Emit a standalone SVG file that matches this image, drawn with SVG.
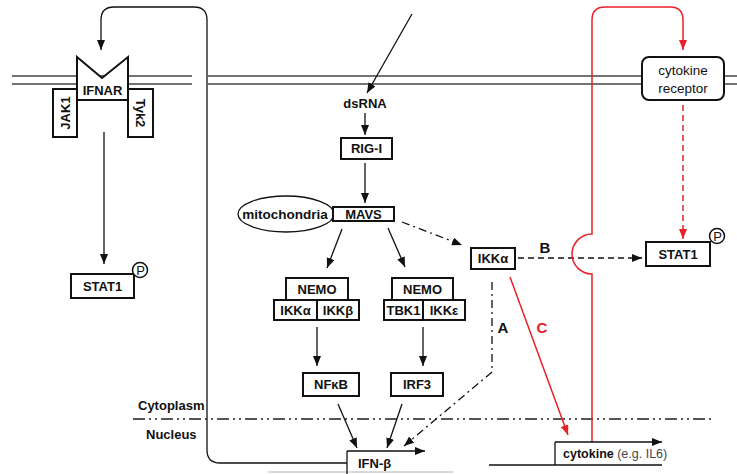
<svg xmlns="http://www.w3.org/2000/svg" width="737" height="474" viewBox="0 0 737 474">
<style>
text{font-family:"Liberation Sans",Arial,sans-serif;fill:#111}
.b{font-weight:bold;font-size:13px;text-anchor:middle;dominant-baseline:central}
.box{fill:#fff;stroke:#111;stroke-width:2}
.ln{fill:none;stroke:#111;stroke-width:1.3}
.rd{fill:none;stroke:#e8202a;stroke-width:1.5}
.mem{stroke:#444;stroke-width:1.5}
.dd{stroke-dasharray:8 4 2 4}
.lbl{font-weight:bold;font-size:15px;text-anchor:middle;dominant-baseline:central}
.p{font-size:13px;text-anchor:middle;dominant-baseline:central}
</style>
<defs>
<marker id="ab" markerUnits="userSpaceOnUse" markerWidth="10" markerHeight="8" refX="10" refY="4" orient="auto"><path d="M0,0 L10,4 L0,8 z" fill="#111"/></marker>
<marker id="ar" markerUnits="userSpaceOnUse" markerWidth="10" markerHeight="8" refX="10" refY="4" orient="auto"><path d="M0,0 L10,4 L0,8 z" fill="#e8202a"/></marker>
</defs>
<rect width="737" height="474" fill="#fff"/>
<g id="membrane">
<line class="mem" x1="12" y1="76" x2="192" y2="76"/><line class="mem" x1="12" y1="84" x2="192" y2="84"/>
<line class="mem" x1="208" y1="76" x2="737" y2="76"/><line class="mem" x1="208" y1="84" x2="737" y2="84"/>
</g>
<g id="nuclear-membrane">
<line x1="133" y1="419" x2="712" y2="419" stroke="#555" stroke-width="2" stroke-dasharray="12 4 2 4 2 4"/>
<line x1="268" y1="472" x2="453" y2="472" stroke="#ccc" stroke-width="1.5"/>
<text x="138" y="405" font-size="13" font-weight="bold" dominant-baseline="central">Cytoplasm</text>
<text x="146" y="434" font-size="13" font-weight="bold" dominant-baseline="central">Nucleus</text>
</g>
<g id="connectors">
<path class="ln" d="M347 463 H220 Q207 463 207 450 V20 Q207 7 194 7 H114 Q101 7 101 20 V50" marker-end="url(#ab)"/>
<line class="ln" x1="412" y1="14" x2="367" y2="93" marker-end="url(#ab)"/>
<line class="ln" x1="365" y1="113" x2="365" y2="135" marker-end="url(#ab)"/>
<line class="ln" x1="365" y1="163" x2="365" y2="203" marker-end="url(#ab)"/>
<line class="ln" x1="342" y1="229" x2="327" y2="268" marker-end="url(#ab)"/>
<line class="ln" x1="388" y1="228" x2="405" y2="267" marker-end="url(#ab)"/>
<line class="ln dd" x1="402" y1="222" x2="462" y2="245" marker-end="url(#ab)"/>
<line class="ln" x1="317" y1="327" x2="317" y2="366" marker-end="url(#ab)"/>
<line class="ln" x1="423" y1="327" x2="423" y2="366" marker-end="url(#ab)"/>
<line class="ln" x1="338" y1="404" x2="357" y2="448" marker-end="url(#ab)"/>
<line class="ln" x1="402" y1="404" x2="387" y2="448" marker-end="url(#ab)"/>
<path class="ln dd" d="M492 282 V372 L404 446" marker-end="url(#ab)"/>
<line class="ln" x1="104" y1="132" x2="104" y2="264" marker-end="url(#ab)"/>
<line class="ln" x1="518" y1="258" x2="642" y2="258" stroke-dasharray="6 4" marker-end="url(#ab)"/>
<path class="rd" d="M592 442 V274 A20 20 0 0 1 592 234 V20 Q592 7 605 7 H670 Q683 7 683 20 V50" marker-end="url(#ar)"/>
<line class="rd" x1="683" y1="105" x2="683" y2="239" stroke-dasharray="6 4" marker-end="url(#ar)"/>
<line class="rd" x1="510" y1="277" x2="568" y2="435" marker-end="url(#ar)"/>
<text class="lbl" x="503" y="327">A</text>
<text class="lbl" x="545" y="247">B</text>
<text class="lbl" x="542" y="327" style="fill:#e8202a">C</text>
</g>
<g id="ifnar">
<rect class="box" x="53" y="89" width="24" height="48"/>
<text class="b" transform="translate(65,113) rotate(-90)">JAK1</text>
<rect class="box" x="128" y="89" width="25" height="48"/>
<text class="b" transform="translate(140.5,113) rotate(90)">Tyk2</text>
<polygon class="box" points="77,57 102,78 128,57 128,100 77,100"/>
<text class="b" x="102.5" y="90">IFNAR</text>
</g>
<g id="stat1-left">
<rect class="box" x="71" y="274" width="63" height="24"/>
<text class="b" x="102.5" y="286">STAT1</text>
<circle cx="140" cy="270" r="7.5" fill="#fff" stroke="#111" stroke-width="1.5"/>
<text class="p" x="140.5" y="270.5">P</text>
</g>
<g id="dsrna"><text class="b" x="365" y="103">dsRNA</text></g>
<g id="rig-i"><rect class="box" x="341" y="138" width="51" height="21"/><text class="b" x="366.5" y="148.5">RIG-I</text></g>
<g id="mitochondria"><ellipse cx="286" cy="214" rx="48" ry="18" fill="#fff" stroke="#111" stroke-width="1.3"/><text x="285" y="214" font-size="13.5" font-weight="bold" text-anchor="middle" dominant-baseline="central">mitochondria</text></g>
<g id="mavs"><rect class="box" x="333" y="207" width="61" height="14"/><text class="b" x="363.5" y="214">MAVS</text></g>
<g id="ikk-complex">
<rect class="box" x="286" y="278" width="62" height="22"/><text class="b" x="317" y="289">NEMO</text>
<rect class="box" x="274" y="300" width="43" height="20"/><text class="b" x="295.5" y="310">IKKα</text>
<rect class="box" x="317" y="300" width="42" height="20"/><text class="b" x="338" y="310">IKKβ</text>
</g>
<g id="tbk1-complex">
<rect class="box" x="392" y="278" width="61" height="22"/><text class="b" x="422.5" y="289">NEMO</text>
<rect class="box" x="384" y="300" width="39" height="20"/><text class="b" x="403.5" y="310">TBK1</text>
<rect class="box" x="423" y="300" width="42" height="20"/><text class="b" x="444" y="310">IKKε</text>
</g>
<g id="nfkb"><rect class="box" x="303" y="373" width="56" height="23"/><text class="b" x="331" y="384.5">NFκB</text></g>
<g id="irf3"><rect class="box" x="391" y="373" width="52" height="23"/><text class="b" x="417" y="384.5">IRF3</text></g>
<g id="ikka"><rect class="box" x="471" y="248" width="44" height="21"/><text class="b" x="493" y="258.5">IKKα</text></g>
<g id="stat1-right">
<rect class="box" x="646" y="242" width="64" height="24"/>
<text class="b" x="678" y="254">STAT1</text>
<circle cx="717" cy="236" r="7.5" fill="#fff" stroke="#111" stroke-width="1.5"/>
<text class="p" x="717.5" y="236.5">P</text>
</g>
<g id="cytokine-receptor">
<rect x="642" y="57" width="82" height="43" rx="7" fill="#fff" stroke="#111" stroke-width="2"/>
<text x="683" y="70" font-size="13.5" text-anchor="middle" dominant-baseline="central">cytokine</text>
<text x="683" y="88" font-size="13.5" text-anchor="middle" dominant-baseline="central">receptor</text>
</g>
<g id="ifn-beta">
<line class="ln" x1="347" y1="451" x2="347" y2="474" stroke-width="1.8"/>
<line class="ln" x1="347" y1="451" x2="425" y2="451" stroke-width="1.8" marker-end="url(#ab)"/>
<text class="b" x="358" y="463" style="text-anchor:start">IFN-β</text>
</g>
<g id="cytokine-gene">
<line class="ln" x1="489" y1="465" x2="662" y2="465" stroke-width="1.8"/>
<line class="ln" x1="555" y1="465" x2="555" y2="442" stroke-width="1.8"/>
<line class="ln" x1="555" y1="442" x2="662" y2="442" stroke-width="1.8" marker-end="url(#ab)"/>
<text x="563" y="454" font-size="12.5" dominant-baseline="central"><tspan font-weight="bold">cytokine</tspan><tspan fill="#444"> (e.g. IL6)</tspan></text>
</g>
</svg>
